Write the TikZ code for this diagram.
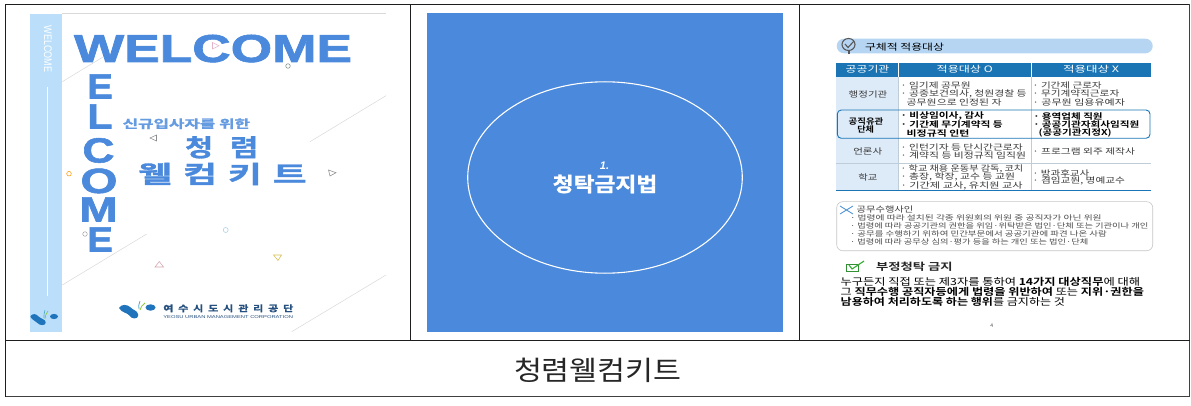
\documentclass[tikz,border=0pt]{standalone}
\usepackage{graphicx}
\usepackage{fontspec}
\usetikzlibrary{shapes.geometric}
\setmainfont{Noto Sans CJK KR}[BoldFont=* Bold]
\newfontfamily\latinb{Liberation Sans}[BoldFont=* Bold]
\newfontfamily\latinh{Liberation Sans}[BoldFont=* Bold,BoldFeatures={FakeBold=1.5}]
\newfontfamily\krh{Noto Sans CJK KR}[BoldFont=* Bold,BoldFeatures={FakeBold=1.2}]
\definecolor{frame}{HTML}{1E1E1E}
\definecolor{wblue}{HTML}{4A89DC}
\definecolor{strip}{HTML}{BBDFFB}
\definecolor{pill}{HTML}{B5D5F3}
\definecolor{thead}{HTML}{1B75B5}
\definecolor{tcol}{HTML}{DDEAF7}
\definecolor{tgrid}{HTML}{BFCDD8}
\definecolor{tink}{HTML}{3A3A3A}
\definecolor{logob}{HTML}{1F74BC}
\definecolor{logog}{HTML}{8CC63F}
\definecolor{navy}{HTML}{25507F}
% set text at a given width in px
\newcommand\fitw[2]{\setbox0=\hbox{#2}\pgfmathsetmacro\myr{#1/\the\wd0}\scalebox{\myr}[1]{\box0}}
% x-left, y-centre, x-right, style, text
\newcommand\LT[5]{\pgfmathsetmacro\myw{#3-(#1)}\node[txt,anchor=west,#4] (t#1-#2) at (#1,#2) {\fitw{\myw}{#5}};}
\newcommand\B[1]{{\bfseries #1}}
\tikzset{
  x=1pt,y=-1pt,
  txt/.style={inner sep=0pt,outer sep=0pt,font=\fontsize{8.1}{8.1}\selectfont,text=tink},
  bold/.style={font=\fontsize{8.1}{8.1}\selectfont\bfseries,text=black},
  lowtxt/.style={font=\fontsize{7}{7}\selectfont,text=black!70},
  bodytxt/.style={font=\fontsize{9.8}{9.8}\selectfont,text=black},
  headtxt/.style={font=\fontsize{8.8}{9}\selectfont,text=white},
  deco/.style={line width=0.55pt,fill=white},
  diag/.style={draw=black!15,line width=0.5pt},
  big/.style={font=\latinh\bfseries\fontsize{39}{39}\selectfont,text=wblue,inner sep=0pt,anchor=base},
  vlet/.style={font=\latinh\bfseries\fontsize{35}{35}\selectfont,text=wblue,inner sep=0pt,anchor=base},
  kit/.style={font=\krh\fontsize{24}{24}\selectfont\bfseries,text=wblue},
  framer/.style={draw=frame,line width=1.1pt},
}
\begin{document}
\begin{tikzpicture}
\useasboundingbox (0,0) rectangle (1191,406);
\fill[white] (0,0) rectangle (1191,406);
% ---------- left panel
\fill[strip] (30,14) rectangle (62,332);
\draw[black!15,line width=0.7pt] (62,13.6) -- (386,13.6);
\draw[diag] (62.3,81.7) -- (103,57);
\draw[diag] (310,141.7) -- (386,95.7);
\draw[diag] (62.3,285) -- (146.7,234);
\draw[diag] (291.7,331.7) -- (386,275);
\draw[white,line width=0.8pt] (47,87) -- (47,296);
\node[rotate=-90,inner sep=0pt,text=white,font=\latinb\fontsize{11}{11}\selectfont] (sidew) at (48,49) {\scalebox{0.82}[1]{WELCOME}};
% small marks
\draw[deco,draw=black!35] (85,234) circle (2.3);
% WELCOME
\node[big] (wtop) at (213,62) {\fitw{278}{WELCOME}};
\draw[deco,fill=none,draw={rgb,255:red,228;green,180;blue,200}] (212.5,42.5) -- (219,45.7) -- (212.5,49) -- cycle;
\draw[deco,draw={rgb,255:red,125;green,150;blue,135}] (288,66) circle (2.3);
\draw[deco,draw=black!45] (156.5,135) -- (150,138) -- (156.5,141) -- cycle;
\draw[deco,draw=orange!80!yellow] (69,173.7) circle (2.3);
\draw[deco,draw=black!45] (328.5,170) -- (336,172.7) -- (330,176) -- cycle;
\draw[deco,draw={rgb,255:red,170;green,208;blue,232}] (225.7,230) circle (2.5);
\draw[deco,draw={rgb,255:red,215;green,190;blue,80}] (273.5,255) -- (281.5,255) -- (278,260.5) -- cycle;
\draw[deco,draw={rgb,255:red,215;green,165;blue,175}] (155,267) -- (159.3,261.5) -- (163.5,267) -- cycle;
\node[vlet] (v1) at (100,98.5)  {\fitw{25.5}{E}};
\node[vlet] (v2) at (100,128.5) {\fitw{25}{L}};
\node[vlet] (v3) at (98.5,162.5) {\fitw{32}{C}};
\node[vlet] (v4) at (99,193) {\fitw{37}{O}};
\node[vlet] (v5) at (98.5,221.5) {\fitw{38}{M}};
\node[vlet] (v6) at (100,251.5) {\fitw{25.5}{E}};
% kit title
\LT{122.7}{123.7}{250}{font=\krh\fontsize{11.5}{12}\selectfont\bfseries,text=wblue!85!white}{신규입사자를 위한}
\LT{185}{147.3}{258.3}{kit}{청\hspace{0.55em}렴}
\LT{138.3}{174}{306.7}{kit}{웰\hspace{0.3em}컴\hspace{0.3em}키\hspace{0.3em}트}
% logos
\filldraw[logob,line width=1.6pt,line join=round] (120,308) .. controls (122,305) and (127,305) .. (130,308) .. controls (132,310.5) and (137,311) .. (137.5,315) .. controls (137.5,318.5) and (132,318.5) .. (130,315) .. controls (128,312) and (122,312) .. (120,308) -- cycle;
\draw[logog,line width=0.8pt] (140,310) .. controls (141,307) and (142,305) .. (145,303);
\draw[cyan!60!gray,line width=0.8pt] (139,309) .. controls (138,307) and (139,304) .. (140,301);
\fill[logob] (150.5,307.5) ellipse (5 and 3.2);
\filldraw[logob,line width=1.4pt,line join=round] (31,316.5) .. controls (33,314) and (36,314.5) .. (38,317) .. controls (40,319) and (45,320) .. (45,322.5) .. controls (45,325) and (40,325) .. (38,322.5) .. controls (36,320) and (33,320) .. (31,316.5) -- cycle;
\draw[logog,line width=0.7pt] (45,319) .. controls (45,316) and (46,314) .. (48,311);
\draw[cyan!60!gray,line width=0.7pt] (44,318) .. controls (44,315) and (44,313) .. (45,310);
\fill[logob] (54,316.5) ellipse (4 and 2.6);
\LT{163.3}{308.3}{293.3}{font=\krh\fontsize{8.5}{9}\selectfont\bfseries,text=navy}{여\hspace{0.45em}수\hspace{0.45em}시\hspace{0.45em}도\hspace{0.45em}시\hspace{0.45em}관\hspace{0.45em}리\hspace{0.45em}공\hspace{0.45em}단}
\LT{163.3}{316.7}{293}{font=\latinb\fontsize{4.2}{5}\selectfont,text=navy}{YEOSU URBAN MANAGEMENT CORPORATION}
% ---------- middle panel
\fill[wblue] (427,13) rectangle (783,332);
\node[draw=white,line width=1.1pt,fill=none,ellipse,minimum width=274.6pt,minimum height=191.4pt,inner sep=0pt] (circ) at (605,177.5) {};
\node[inner sep=0pt,text=white,font=\latinb\bfseries\itshape\fontsize{11}{11}\selectfont] (num) at (604.5,166) {1.};
\node[inner sep=0pt,text=white,font=\krh\fontsize{20}{20}\selectfont\bfseries] (law) at (605,184) {\fitw{104.6}{청탁금지법}};
% ---------- right panel: pill
\fill[pill,rounded corners=7.3pt] (836.7,38.7) rectangle (1152.7,53.3);
\draw[black!65,line width=1.5pt] (849,51) -- (849,54);
\draw[black!65,line width=1.1pt,fill=pill] (848.5,44.5) ellipse (6.5 and 6);
\draw[black!65,line width=1.1pt] (845,44) -- (848,47.5) -- (854,41);
\LT{865}{46.7}{944}{font=\fontsize{9}{10}\selectfont,text=black}{구체적 적용대상}
% table
\fill[thead] (836,62.7) rectangle (1151,76.7);
\fill[tcol] (836,76.7) rectangle (898.7,190.7);
\draw[white,line width=0.6pt] (898.7,62.7) -- (898.7,76.7) (1031,62.7) -- (1031,76.7);
\draw[tgrid,line width=0.5pt] (898.7,76.7) -- (898.7,190.7) (1031,76.7) -- (1031,190.7);
\draw[tgrid,line width=0.5pt] (836,163.3) -- (1151,163.3);
\draw[thead,line width=0.7pt] (836,190.7) -- (1151,190.7);
\draw[thead,line width=0.9pt,rounded corners=4pt] (837.3,110) rectangle (1150,138.3);
\LT{845.7}{69.7}{889.3}{headtxt}{공공기관}
\LT{936.7}{69.7}{992.7}{headtxt}{적용대상 O}
\LT{1063}{69.7}{1119}{headtxt}{적용대상 X}
\LT{848.7}{94}{887.3}{}{행정기관}
\LT{900.7}{85.3}{970.7}{}{· 임기제 공무원}
\LT{900.7}{93.7}{1026.7}{}{· 공중보건의사, 청원경찰 등}
\LT{906.7}{102.7}{1001.7}{}{공무원으로 인정된 자}
\LT{1032.7}{85.3}{1101.7}{}{· 기간제 근로자}
\LT{1032.7}{93.7}{1119.3}{}{· 무기계약직근로자}
\LT{1032.7}{102.7}{1125}{}{· 공무원 임용유예자}
\LT{848.7}{121}{883.3}{bold}{공직유관}
\LT{857.3}{129}{874}{bold}{단체}
\LT{900.7}{116}{984}{bold}{· 비상임이사, 감사}
\LT{900.7}{124.3}{1002.7}{bold}{· 기간제 무기계약직 등}
\LT{906.7}{133.3}{969.3}{bold}{비정규직 인턴}
\LT{1033.3}{116}{1102.7}{bold}{· 용역업체 직원}
\LT{1033.3}{124.3}{1139.3}{bold}{· 공공기관자회사임직원}
\LT{1038.7}{133.3}{1111.7}{bold}{(공공기관지정X)}
\LT{853.3}{151}{882.3}{}{언론사}
\LT{900.7}{147}{1022.7}{}{· 인턴기자 등 단시간근로자}
\LT{900.7}{155}{1026}{}{· 계약직 등 비정규직 임직원}
\LT{1032.7}{151}{1135}{}{· 프로그램 외주 제작사}
\LT{858.3}{177.3}{877.3}{}{학교}
\LT{900.7}{168.7}{1023.3}{}{· 학교 채용 운동부 감독, 코치}
\LT{900.7}{177}{1015}{}{· 총장, 학장, 교수 등 교원}
\LT{900.7}{185.7}{1022.7}{}{· 기간제 교사, 유치원 교사}
\LT{1032.7}{173}{1089.3}{}{· 방과후교사}
\LT{1032.7}{181}{1125}{}{· 겸임교원, 명예교수}
% note box
\draw[black!22,line width=0.6pt,rounded corners=6pt] (836.7,201.7) rectangle (1152.7,250.7);
\draw[cyan!60!blue!70,line width=0.9pt] (840,206) -- (853,214) (840,214) -- (853,206);
\LT{856.7}{210}{913.3}{font=\fontsize{8}{8}\selectfont,text=black!75}{공무수행사인}
\LT{850}{218.3}{1101.7}{lowtxt}{· 법령에 따라 설치된 각종 위원회의 위원 중 공직자가 아닌 위원}
\LT{850}{226.3}{1148.3}{lowtxt}{· 법령에 따라 공공기관의 권한을 위임·위탁받은 법인·단체 또는 기관이나 개인}
\LT{850}{234.3}{1106.7}{lowtxt}{· 공무를 수행하기 위하여 민간부문에서 공공기관에 파견 나온 사람}
\LT{850}{242.3}{1088.3}{lowtxt}{· 법령에 따라 공무상 심의·평가 등을 하는 개인 또는 법인·단체}
% check heading
\draw[green!45!black!80,line width=1pt] (846,264) rectangle (858,271);
\draw[green!60!black!80,line width=1.1pt] (849,265) -- (852,269) -- (864,261);
\LT{876}{266.7}{952.7}{font=\fontsize{10}{10}\selectfont\bfseries,text=black!85}{부정청탁 금지}
\LT{840.7}{281.7}{1140}{bodytxt}{누구든지 직접 또는 제3자를 통하여 \B{14가지 대상직무}에 대해}
\LT{840.7}{291.7}{1144}{bodytxt}{그 \B{직무수행 공직자등에게 법령을 위반하여} 또는 \B{지위·권한을}}
\LT{840.7}{302.3}{1065}{bodytxt}{\B{남용하여 처리하도록 하는 행위}를 금지하는 것}
\node[inner sep=0pt,text=black!70,font=\fontsize{5}{6}\selectfont] (pg) at (991.7,325.7) {4};
% ---------- caption
\LT{514}{370}{681.7}{font=\fontsize{27}{28}\selectfont,text=black!85}{청렴웰컴키트}
% ---------- frame
\draw[framer] (5.5,4.5) -- (1189.5,4.5);
\draw[framer] (5.5,4.5) -- (5.5,396.7);
\draw[framer,draw=black!75,line width=1.5pt] (1189.5,4.5) -- (1189.5,396.7) -- (5.5,396.7);
\draw[framer] (5.5,340.5) -- (1189.5,340.5);
\draw[framer] (410.3,4.5) -- (410.3,340.5);
\draw[framer] (799.7,4.5) -- (799.7,340.5);
\end{tikzpicture}
\end{document}
